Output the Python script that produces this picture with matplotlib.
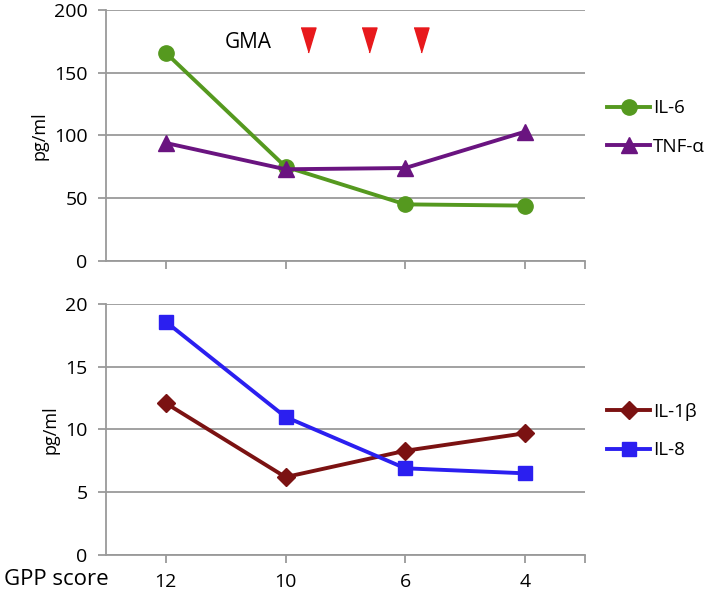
import matplotlib
matplotlib.use("Agg")
import matplotlib.pyplot as plt
import numpy as np

plt.rcParams["font.family"] = ["Open Sans", "DejaVu Sans"]

# data
gpp = ["12", "10", "6", "4"]
il6 = [166, 75, 45, 44]
tnfa = [94, 73, 74, 103]
il1b = [12.1, 6.2, 8.3, 9.7]
il8 = [18.6, 11.0, 6.9, 6.5]
gma_pos = [1.19, 1.70, 2.13]  # between categories
gma_y = 176

grid_c = "#9a9a9a"

fig = plt.figure(figsize=(7.1, 5.94), dpi=100)
ax1 = fig.add_axes([0.149, 0.561, 0.675, 0.422])
ax2 = fig.add_axes([0.149, 0.066, 0.675, 0.422])

x = np.arange(len(gpp))


def style(ax, ymax, step):
    ax.set_xlim(-0.5, 3.5)
    ax.set_ylim(0, ymax)
    ax.set_yticks(np.arange(0, ymax + step, step))
    ax.grid(axis="y", color=grid_c, lw=1.3)
    ax.set_axisbelow(True)
    for s in ["top", "right"]:
        ax.spines[s].set_visible(False)
    for s in ["left", "bottom"]:
        ax.spines[s].set_color(grid_c)
        ax.spines[s].set_linewidth(1.3)
    ax.set_xticks(x)
    ax.set_xticks([3.5], minor=True)
    ax.tick_params(axis="both", which="both", color=grid_c, width=1.3, length=6,
                   labelsize=14, pad=7)
    ax.set_ylabel("pg/ml", fontsize=13, labelpad=4)


style(ax1, 200, 50)
style(ax2, 20, 5)
ax1.set_xticklabels([])
ax2.set_xticklabels(gpp)

ax1.plot(x, il6, color="#55991f", lw=2.8, marker="o", ms=11, label="IL-6")
ax1.plot(x, tnfa, color="#6a1480", lw=2.8, marker="^", ms=11, label="TNF-α")
# GMA sessions: tall downward triangles
ax1.plot(gma_pos, [gma_y] * 3, ls="none", ms=18, color="#e8191c",
         marker=[(-0.6, 1), (0.6, 1), (0, -1)], zorder=5)
ax1.text(0.69, gma_y - 2, "GMA", fontsize=15, ha="center", va="center")

ax2.plot(x, il1b, color="#7b1212", lw=2.8, marker="D", ms=9, label="IL-1β")
ax2.plot(x, il8, color="#2b1ff0", lw=2.8, marker="s", ms=10, label="IL-8")

for ax, ly in ((ax1, 0.532), (ax2, 0.494)):
    ax.legend(loc="center left", bbox_to_anchor=(1.046, ly), frameon=False,
              fontsize=13.5, handlelength=2.3, handletextpad=0.15,
              labelspacing=1.08, borderpad=0, borderaxespad=0)

fig.text(0.005, 0.024, "GPP score", fontsize=16, ha="left", va="center")

fig.savefig("out.png", dpi=100)
